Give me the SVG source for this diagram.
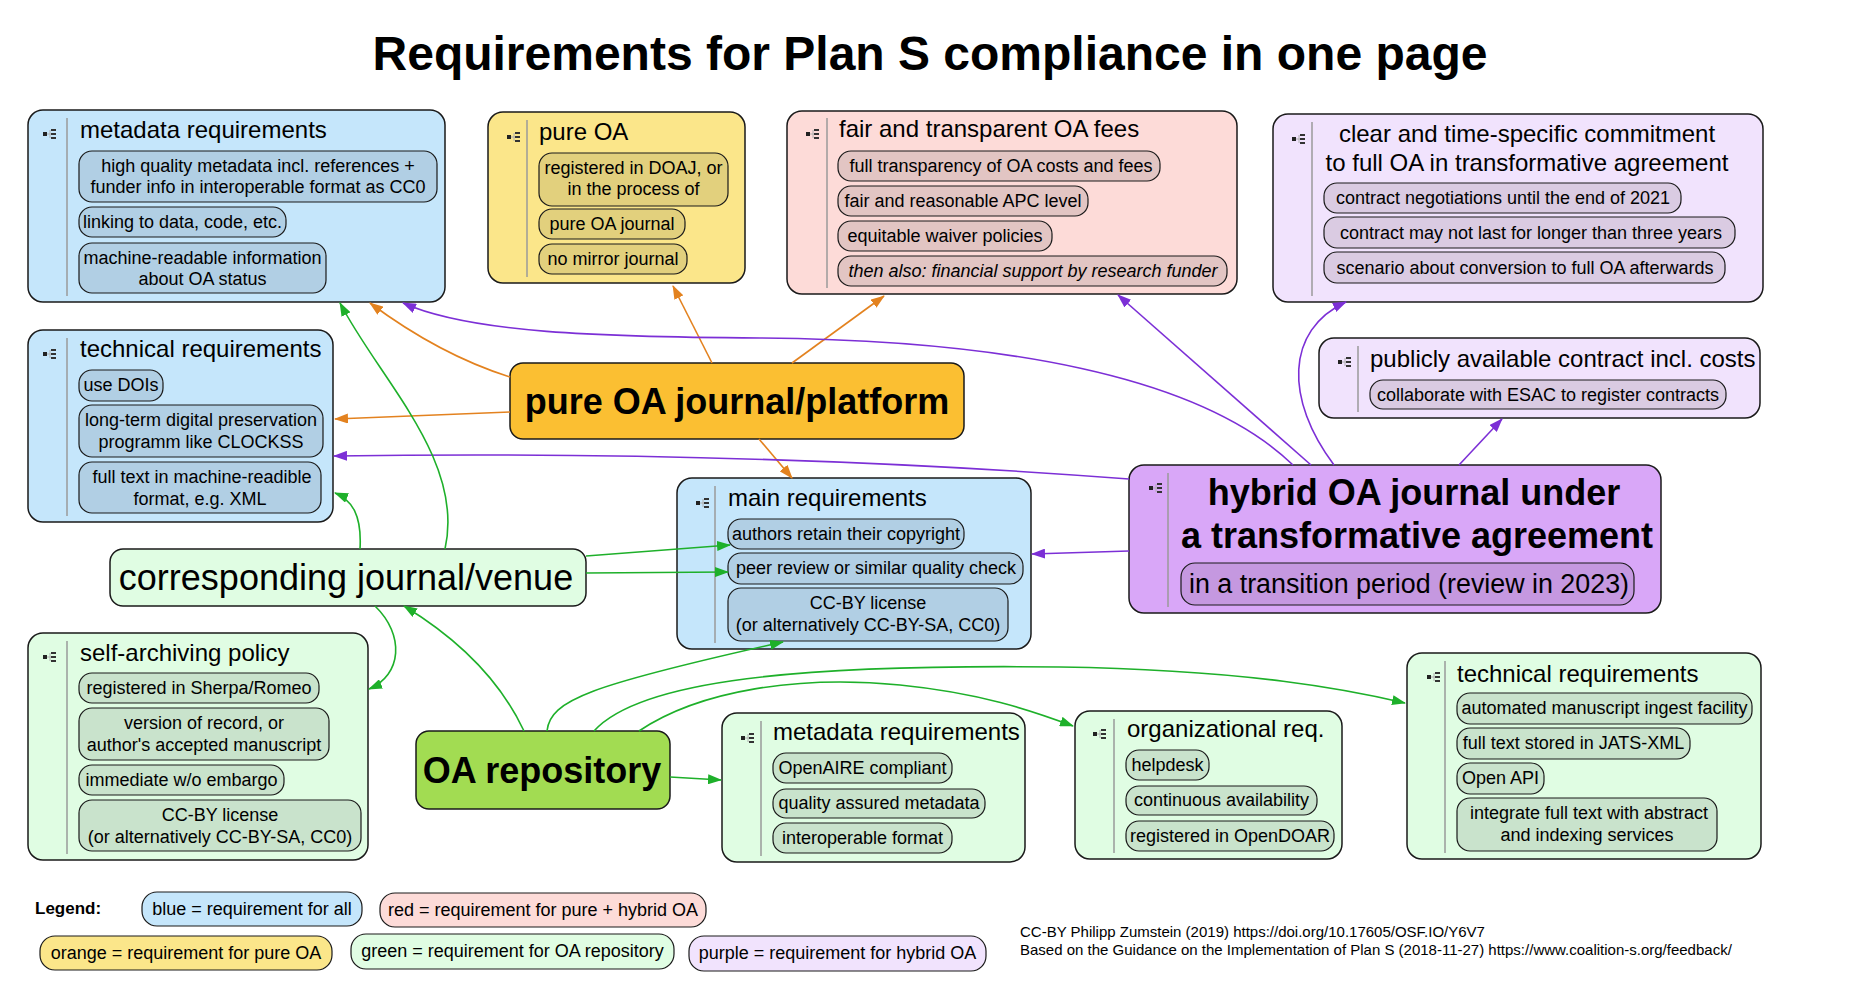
<svg xmlns="http://www.w3.org/2000/svg" xmlns:xlink="http://www.w3.org/1999/xlink" width="1860" height="996" viewBox="0 0 1860 996">
<style>
text{font-family:"Liberation Sans",Arial,Helvetica,sans-serif;fill:#000}
.h{font-size:24px}
.c{font-size:18px;text-anchor:middle}
.big{font-size:36px;font-weight:bold;text-anchor:middle}
.pb{stroke:#1a1a1a;stroke-width:1.5}
.cb{stroke:#1a1a1a;stroke-width:1.2}
.sep{stroke:#9a9a9a;stroke-width:1.5;fill:none}
.blue{fill:#c5e6fb}.bluec{fill:#b1cfe4}
.yel{fill:#fbe68a}.yelc{fill:#e2d07d}
.red{fill:#fddbd8}.redc{fill:#e2c5c3}
.pur{fill:#f1e3fd}.purc{fill:#dacbe2}
.grn{fill:#e0fde3}.grnc{fill:#c9e3cc}
.or{stroke:#e3821f;stroke-width:1.6;fill:none}
.pu{stroke:#7c2fd6;stroke-width:1.6;fill:none}
.gr{stroke:#1eb02a;stroke-width:1.6;fill:none}
.leg{font-size:18px;text-anchor:middle}
.foot{font-size:15px}
</style>
<defs>
<marker id="ao" markerUnits="userSpaceOnUse" markerWidth="14" markerHeight="10" refX="13" refY="5" orient="auto"><path d="M0,0 L14,5 L0,10 z" fill="#e3821f"/></marker>
<marker id="ap" markerUnits="userSpaceOnUse" markerWidth="14" markerHeight="10" refX="13" refY="5" orient="auto"><path d="M0,0 L14,5 L0,10 z" fill="#7c2fd6"/></marker>
<marker id="ag" markerUnits="userSpaceOnUse" markerWidth="14" markerHeight="10" refX="13" refY="5" orient="auto"><path d="M0,0 L14,5 L0,10 z" fill="#1eb02a"/></marker>
<g id="ico"><rect x="0" y="-2" width="4" height="4" fill="#222"/><path d="M4,0 H8 M7,-4 V4" stroke="#b0b0b0" stroke-width="1"/><rect x="8" y="-5" width="5" height="2" fill="#333"/><rect x="8" y="-1" width="5" height="2" fill="#333"/><rect x="8" y="3" width="5" height="2" fill="#333"/></g>
</defs>
<rect width="1860" height="996" fill="#fff"/>
<text x="930" y="70" style="font-size:48px;font-weight:bold;text-anchor:middle">Requirements for Plan S compliance in one page</text>

<g id="blue-metadata">
<rect class="pb blue" x="28" y="110" width="417" height="192" rx="15"/>
<use xlink:href="#ico" x="43" y="134"/>
<line class="sep" x1="67" y1="118" x2="67" y2="296"/>
<text class="h" x="80" y="138">metadata requirements</text>
<rect class="cb bluec" x="79" y="151" width="358" height="51" rx="13"/>
<text class="c" x="258" y="172">high quality metadata incl. references +</text>
<text class="c" x="258" y="193">funder info in interoperable format as CC0</text>
<rect class="cb bluec" x="79" y="207" width="207" height="30" rx="13"/>
<text class="c" x="182.5" y="228">linking to data, code, etc.</text>
<rect class="cb bluec" x="79" y="243" width="247" height="50" rx="13"/>
<text class="c" x="202.5" y="264">machine-readable information</text>
<text class="c" x="202.5" y="285">about OA status</text>
</g>

<g id="pure-oa">
<rect class="pb yel" x="488" y="112" width="257" height="171" rx="15"/>
<use xlink:href="#ico" x="507" y="137"/>
<line class="sep" x1="527" y1="120" x2="527" y2="277"/>
<text class="h" x="539" y="140">pure OA</text>
<rect class="cb yelc" x="539" y="153" width="189" height="53" rx="13"/>
<text class="c" x="633.5" y="174">registered in DOAJ, or</text>
<text class="c" x="633.5" y="195">in the process of</text>
<rect class="cb yelc" x="539" y="209" width="146" height="30" rx="13"/>
<text class="c" x="612" y="230">pure OA journal</text>
<rect class="cb yelc" x="539" y="244" width="148" height="30" rx="13"/>
<text class="c" x="613" y="265">no mirror journal</text>
</g>

<g id="fees">
<rect class="pb red" x="787" y="111" width="450" height="183" rx="15"/>
<use xlink:href="#ico" x="806" y="134"/>
<line class="sep" x1="827" y1="118" x2="827" y2="288"/>
<text class="h" x="839" y="137">fair and transparent OA fees</text>
<rect class="cb redc" x="838" y="151" width="322" height="30" rx="13"/>
<text class="c" x="1001" y="172">full transparency of OA costs and fees</text>
<rect class="cb redc" x="838" y="186" width="250" height="30" rx="13"/>
<text class="c" x="963" y="207">fair and reasonable APC level</text>
<rect class="cb redc" x="838" y="221" width="214" height="30" rx="13"/>
<text class="c" x="945" y="242">equitable waiver policies</text>
<rect class="cb redc" x="838" y="256" width="389" height="30" rx="13"/>
<text class="c" x="1033" y="277" style="font-style:italic">then also: financial support by research funder</text>
</g>

<g id="commitment">
<rect class="pb pur" x="1273" y="114" width="490" height="188" rx="15"/>
<use xlink:href="#ico" x="1292" y="139"/>
<line class="sep" x1="1312" y1="122" x2="1312" y2="296"/>
<text class="h" x="1527" y="142" style="text-anchor:middle">clear and time-specific commitment</text>
<text class="h" x="1527" y="171" style="text-anchor:middle">to full OA in transformative agreement</text>
<rect class="cb purc" x="1324" y="183" width="357" height="30" rx="13"/>
<text class="c" x="1503" y="204">contract negotiations until the end of 2021</text>
<rect class="cb purc" x="1324" y="217" width="411" height="31" rx="13"/>
<text class="c" x="1531" y="239">contract may not last for longer than three years</text>
<rect class="cb purc" x="1324" y="252" width="401" height="31" rx="13"/>
<text class="c" x="1525" y="274">scenario about conversion to full OA afterwards</text>
</g>

<g id="blue-technical">
<rect class="pb blue" x="28" y="330" width="305" height="192" rx="15"/>
<use xlink:href="#ico" x="43" y="354"/>
<line class="sep" x1="67" y1="338" x2="67" y2="516"/>
<text class="h" x="80" y="357">technical requirements</text>
<rect class="cb bluec" x="79" y="370" width="84" height="31" rx="13"/>
<text class="c" x="121" y="391">use DOIs</text>
<rect class="cb bluec" x="79" y="405" width="244" height="52" rx="13"/>
<text class="c" x="201" y="426">long-term digital preservation</text>
<text class="c" x="201" y="448">programm like CLOCKSS</text>
<rect class="cb bluec" x="79" y="462" width="242" height="51" rx="13"/>
<text class="c" x="202" y="483">full text in machine-readible</text>
<text class="c" x="200" y="505">format, e.g. XML</text>
</g>

<g id="pure-oa-journal">
<rect class="pb" fill="#fbbf32" x="510" y="363" width="454" height="76" rx="13"/>
<text class="big" x="737" y="414">pure OA journal/platform</text>
</g>

<g id="publicly-available">
<rect class="pb pur" x="1319" y="338" width="441" height="80" rx="15"/>
<use xlink:href="#ico" x="1338" y="362"/>
<line class="sep" x1="1358" y1="346" x2="1358" y2="412"/>
<text class="h" x="1370" y="367">publicly available contract incl. costs</text>
<rect class="cb purc" x="1370" y="380" width="356" height="29" rx="13"/>
<text class="c" x="1548" y="401">collaborate with ESAC to register contracts</text>
</g>

<g id="hybrid">
<rect class="pb" fill="#d9a7f8" x="1129" y="465" width="532" height="148" rx="15"/>
<use xlink:href="#ico" x="1149" y="488"/>
<line class="sep" x1="1168" y1="473" x2="1168" y2="607"/>
<text class="big" x="1414" y="505">hybrid OA journal under</text>
<text class="big" x="1417" y="548">a transformative agreement</text>
<rect class="cb" fill="#c598e0" x="1181" y="563" width="453" height="42" rx="14"/>
<text x="1409" y="593" textLength="440" lengthAdjust="spacingAndGlyphs" style="font-size:27px;text-anchor:middle">in a transition period  (review in 2023)</text>
</g>

<g id="main-requirements">
<rect class="pb blue" x="677" y="478" width="354" height="171" rx="15"/>
<use xlink:href="#ico" x="696" y="503"/>
<line class="sep" x1="715" y1="486" x2="715" y2="643"/>
<text class="h" x="728" y="506">main requirements</text>
<rect class="cb bluec" x="728" y="519" width="236" height="30" rx="13"/>
<text class="c" x="846" y="540">authors retain their copyright</text>
<rect class="cb bluec" x="728" y="553" width="295" height="31" rx="13"/>
<text class="c" x="876" y="574">peer review or similar quality check</text>
<rect class="cb bluec" x="728" y="588" width="280" height="53" rx="13"/>
<text class="c" x="868" y="609">CC-BY license</text>
<text class="c" x="868" y="631">(or alternatively CC-BY-SA, CC0)</text>
</g>

<g id="corresponding-journal">
<rect class="pb grn" x="110" y="549" width="476" height="57" rx="13"/>
<text x="346" y="590" style="font-size:36px;text-anchor:middle">corresponding journal/venue</text>
</g>

<g id="self-archiving">
<rect class="pb grn" x="28" y="633" width="340" height="227" rx="15"/>
<use xlink:href="#ico" x="43" y="657"/>
<line class="sep" x1="67" y1="641" x2="67" y2="854"/>
<text class="h" x="80" y="661">self-archiving policy</text>
<rect class="cb grnc" x="79" y="673" width="240" height="30" rx="13"/>
<text class="c" x="199" y="694">registered in Sherpa/Romeo</text>
<rect class="cb grnc" x="79" y="708" width="250" height="52" rx="13"/>
<text class="c" x="204" y="729">version of record, or</text>
<text class="c" x="204" y="751">author's accepted manuscript</text>
<rect class="cb grnc" x="79" y="765" width="205" height="30" rx="13"/>
<text class="c" x="181.5" y="786">immediate w/o embargo</text>
<rect class="cb grnc" x="79" y="800" width="282" height="51" rx="13"/>
<text class="c" x="220" y="821">CC-BY license</text>
<text class="c" x="220" y="843">(or alternatively CC-BY-SA, CC0)</text>
</g>

<g id="oa-repository">
<rect class="pb" fill="#a2dc52" x="416" y="731" width="254" height="78" rx="13"/>
<text class="big" x="542" y="783">OA repository</text>
</g>

<g id="green-metadata">
<rect class="pb grn" x="722" y="713" width="303" height="149" rx="15"/>
<use xlink:href="#ico" x="741" y="738"/>
<line class="sep" x1="761" y1="721" x2="761" y2="856"/>
<text class="h" x="773" y="740">metadata requirements</text>
<rect class="cb grnc" x="773" y="753" width="179" height="30" rx="13"/>
<text class="c" x="862.5" y="774">OpenAIRE compliant</text>
<rect class="cb grnc" x="773" y="789" width="212" height="29" rx="13"/>
<text class="c" x="879" y="809">quality assured metadata</text>
<rect class="cb grnc" x="773" y="823" width="179" height="30" rx="13"/>
<text class="c" x="862.5" y="844">interoperable format</text>
</g>

<g id="organizational">
<rect class="pb grn" x="1075" y="711" width="267" height="148" rx="15"/>
<use xlink:href="#ico" x="1093" y="734"/>
<line class="sep" x1="1114" y1="719" x2="1114" y2="853"/>
<text class="h" x="1127" y="737">organizational req.</text>
<rect class="cb grnc" x="1126" y="750" width="83" height="30" rx="13"/>
<text class="c" x="1167.5" y="771">helpdesk</text>
<rect class="cb grnc" x="1126" y="786" width="191" height="29" rx="13"/>
<text class="c" x="1221.5" y="806">continuous availability</text>
<rect class="cb grnc" x="1126" y="821" width="208" height="30" rx="13"/>
<text class="c" x="1230" y="842">registered in OpenDOAR</text>
</g>

<g id="green-technical">
<rect class="pb grn" x="1407" y="653" width="354" height="206" rx="15"/>
<use xlink:href="#ico" x="1427" y="677"/>
<line class="sep" x1="1445" y1="661" x2="1445" y2="853"/>
<text class="h" x="1457" y="682">technical requirements</text>
<rect class="cb grnc" x="1457" y="693" width="295" height="31" rx="13"/>
<text class="c" x="1604.5" y="714">automated manuscript ingest facility</text>
<rect class="cb grnc" x="1457" y="728" width="233" height="31" rx="13"/>
<text class="c" x="1573.5" y="749">full text stored in JATS-XML</text>
<rect class="cb grnc" x="1457" y="763" width="87" height="31" rx="13"/>
<text class="c" x="1500.5" y="784">Open API</text>
<rect class="cb grnc" x="1457" y="798" width="260" height="53" rx="13"/>
<text class="c" x="1589" y="819">integrate full text with abstract</text>
<text class="c" x="1587" y="841">and indexing services</text>
</g>

<g id="connectors">
<path class="or" marker-end="url(#ao)" d="M510,377 Q440,355 370,303"/>
<path class="or" marker-end="url(#ao)" d="M712,363 L673,286"/>
<path class="or" marker-end="url(#ao)" d="M792,363 L884,296"/>
<path class="or" marker-end="url(#ao)" d="M510,412 L335,419"/>
<path class="or" marker-end="url(#ao)" d="M759,439 L792,478"/>
<path class="pu" marker-end="url(#ap)" d="M1293,465 C1200,375 1000,340 760,338 C600,337 470,333 403,303"/>
<path class="pu" marker-end="url(#ap)" d="M1129,479 Q750,450 334,456"/>
<path class="pu" marker-end="url(#ap)" d="M1311,465 L1118,295"/>
<path class="pu" marker-end="url(#ap)" d="M1334,465 C1285,400 1285,330 1346,302"/>
<path class="pu" marker-end="url(#ap)" d="M1459,465 L1502,419"/>
<path class="pu" marker-end="url(#ap)" d="M1129,551 L1032,554"/>
<path class="gr" marker-end="url(#ag)" d="M445,549 C465,460 380,380 340,303"/>
<path class="gr" marker-end="url(#ag)" d="M360,549 C362,515 352,500 335,493"/>
<path class="gr" marker-end="url(#ag)" d="M586,556 L730,545"/>
<path class="gr" marker-end="url(#ag)" d="M586,573 L728,572"/>
<path class="gr" marker-end="url(#ag)" d="M375,606 C405,635 402,675 369,689"/>
<path class="gr" marker-end="url(#ag)" d="M524,731 C500,680 460,640 404,606"/>
<path class="gr" marker-end="url(#ag)" d="M547,731 C550,700 590,685 783,642"/>
<path class="gr" marker-end="url(#ag)" d="M594,731 C640,680 800,664 1060,667 C1250,670 1350,690 1405,703"/>
<path class="gr" marker-end="url(#ag)" d="M639,731 C700,690 800,675 900,685 C980,693 1030,710 1073,726"/>
<path class="gr" marker-end="url(#ag)" d="M670,777 L721,780"/>
</g>

<g id="legend">
<text x="35" y="914" style="font-size:17px;font-weight:bold">Legend:</text>
<rect class="cb blue" x="142" y="892" width="220" height="34" rx="15"/>
<text class="leg" x="252" y="915">blue = requirement for all</text>
<rect class="cb red" x="380" y="893" width="326" height="34" rx="15"/>
<text class="leg" x="543" y="916">red = requirement for pure + hybrid OA</text>
<rect class="cb yel" x="40" y="936" width="292" height="34" rx="15"/>
<text class="leg" x="186" y="959">orange = requirement for pure OA</text>
<rect class="cb grn" x="351" y="934" width="323" height="35" rx="15"/>
<text class="leg" x="512.5" y="957">green = requirement for OA repository</text>
<rect class="cb pur" x="689" y="936" width="297" height="35" rx="15"/>
<text class="leg" x="837.5" y="959">purple = requirement for hybrid OA</text>
</g>

<g id="footer">
<text class="foot" x="1020" y="937">CC-BY Philipp Zumstein (2019) https://doi.org/10.17605/OSF.IO/Y6V7</text>
<text class="foot" x="1020" y="955">Based on the Guidance on the Implementation of Plan S (2018-11-27) https://www.coalition-s.org/feedback/</text>
</g>
</svg>
